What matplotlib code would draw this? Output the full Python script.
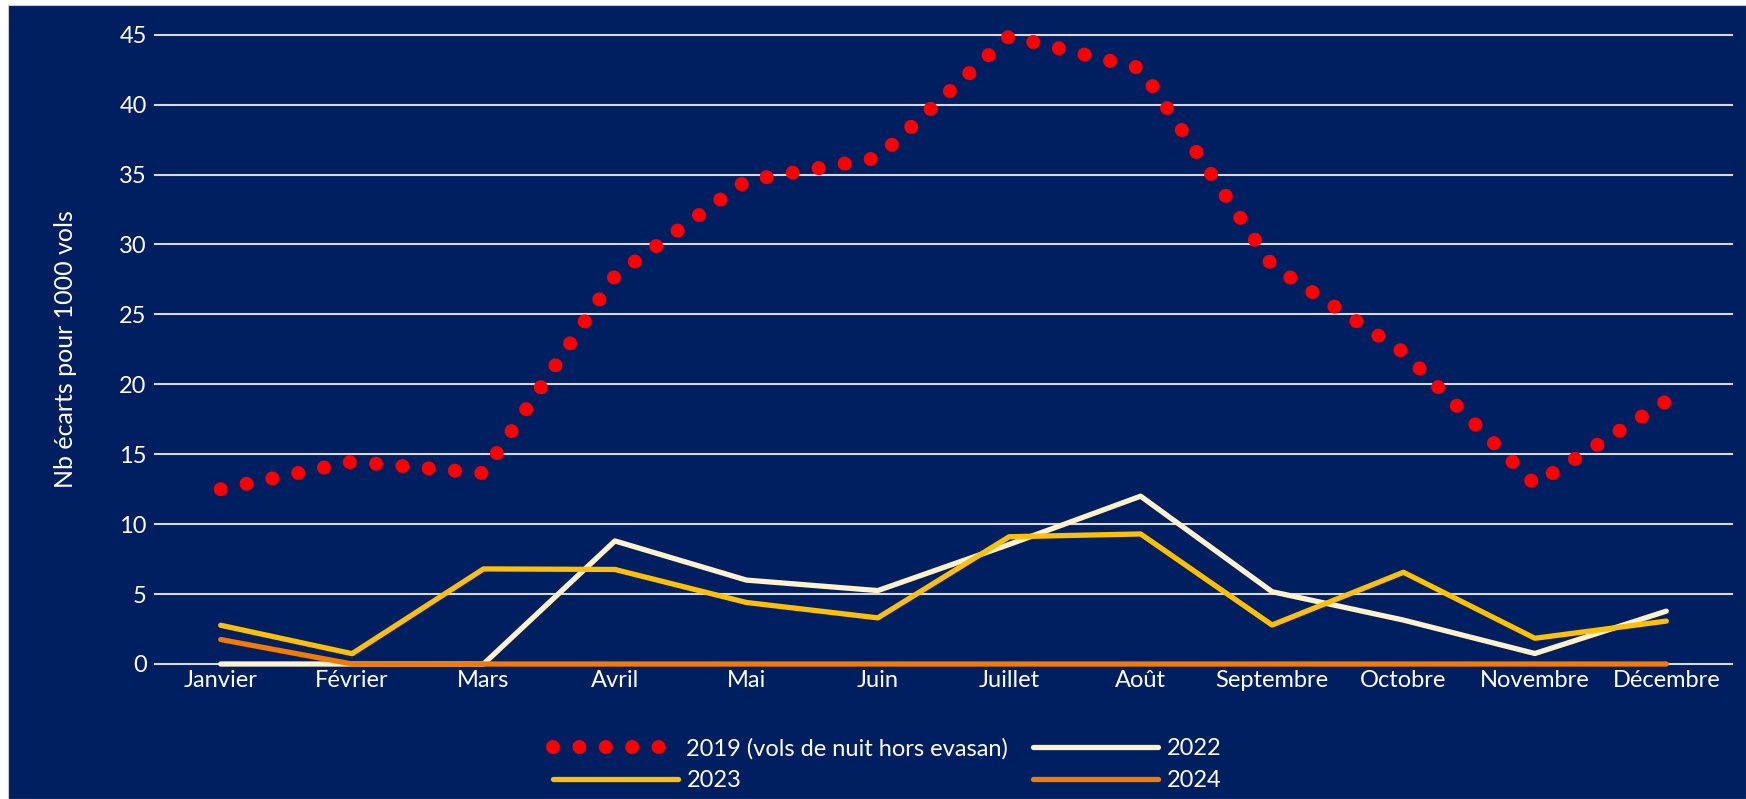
import matplotlib
matplotlib.use('Agg')
import matplotlib.pyplot as plt
from matplotlib.patches import Rectangle

# ---- data ----
months = ['Janvier', 'Février', 'Mars', 'Avril', 'Mai', 'Juin', 'Juillet',
          'Août', 'Septembre', 'Octobre', 'Novembre', 'Décembre']
v2019 = [12.5, 14.47, 13.65, 27.75, 34.56, 36.2, 44.9, 42.6, 28.5, 22.3, 12.85, 18.8]
v2022 = [0, 0, 0, 8.8, 6.0, 5.25, 8.55, 12.0, 5.17, 3.14, 0.75, 3.78]
v2023 = [2.77, 0.74, 6.8, 6.76, 4.4, 3.3, 9.1, 9.3, 2.79, 6.56, 1.84, 3.07]
v2024 = [1.75, 0, 0, 0, 0, 0, 0, 0, 0, 0, 0, 0]
series_labels = ['2019 (vols de nuit hors evasan)', '2022', '2023', '2024']
yticks = [0, 5, 10, 15, 20, 25, 30, 35, 40, 45]
ylabel = 'Nb écarts pour 1000 vols'

# ---- style ----
NAVY = '#001F60'
C2019 = '#FF0000'
C2022 = '#FFF2CC'
C2023 = '#FFC000'
C2024 = '#F47A00'
FS = 17

plt.rcParams['font.family'] = ['Lato', 'DejaVu Sans']

W, H = 1746, 799
fig = plt.figure(figsize=(W / 100, H / 100), dpi=100, facecolor='white')
bg = Rectangle((7.5 / W, 0), 1 - 7.5 / W, 1 - 5 / H,
               transform=fig.transFigure, facecolor=NAVY,
               edgecolor='#C8C8C8', lw=0.8, zorder=-10)
fig.patches.append(bg)

ax = fig.add_axes([155 / W, 1 - 664 / H, (1732 - 155) / W, (664 - 34.7) / H])
ax.set_facecolor('none')
ax.set_zorder(1)

x = list(range(len(months)))
h19, = ax.plot(x, v2019, color=C2019, lw=10.1, linestyle=(0, (0.001, 1.88)),
               dash_capstyle='round', label=series_labels[0], zorder=3, clip_on=False)
h22, = ax.plot(x, v2022, color=C2022, lw=3.8, solid_capstyle='round',
               solid_joinstyle='round', label=series_labels[1], zorder=4, clip_on=False)
h23, = ax.plot(x, v2023, color=C2023, lw=3.8, solid_capstyle='round',
               solid_joinstyle='round', label=series_labels[2], zorder=5, clip_on=False)
h24, = ax.plot(x, v2024, color=C2024, lw=3.8, solid_capstyle='round',
               solid_joinstyle='round', label=series_labels[3], zorder=6, clip_on=False)

ax.set_xlim(-0.5, len(months) - 0.5)
ax.set_ylim(0, 45)
ax.set_yticks(yticks)
ax.set_xticks(x)
ax.set_xticklabels(months)
ax.yaxis.grid(True, color='#D9D9D9', lw=1.5, clip_on=False)
ax.set_axisbelow(True)
for s in ax.spines.values():
    s.set_visible(False)
ax.tick_params(axis='both', length=0, labelcolor='white', labelsize=FS)
ax.tick_params(axis='y', pad=6)
ax.tick_params(axis='x', pad=4)

fig.text(66 / W, 1 - (664 + 34.7) / 2 / H, ylabel, rotation=90, ha='center',
         va='center', color='white', fontsize=18)

leg = fig.legend(handles=[h19, h23, h22, h24],
                 labels=[series_labels[0], series_labels[2], series_labels[1], series_labels[3]],
                 ncol=2, loc='center left', bbox_to_anchor=(553 / W, 1 - 764.5 / H),
                 frameon=False, fontsize=FS, handlelength=5.3, handletextpad=0.35,
                 columnspacing=1.06, labelspacing=0.45, borderpad=0, borderaxespad=0,
                 labelcolor='white')
leg.set_zorder(2)

fig.savefig('out.png', dpi=100, facecolor=fig.get_facecolor())
